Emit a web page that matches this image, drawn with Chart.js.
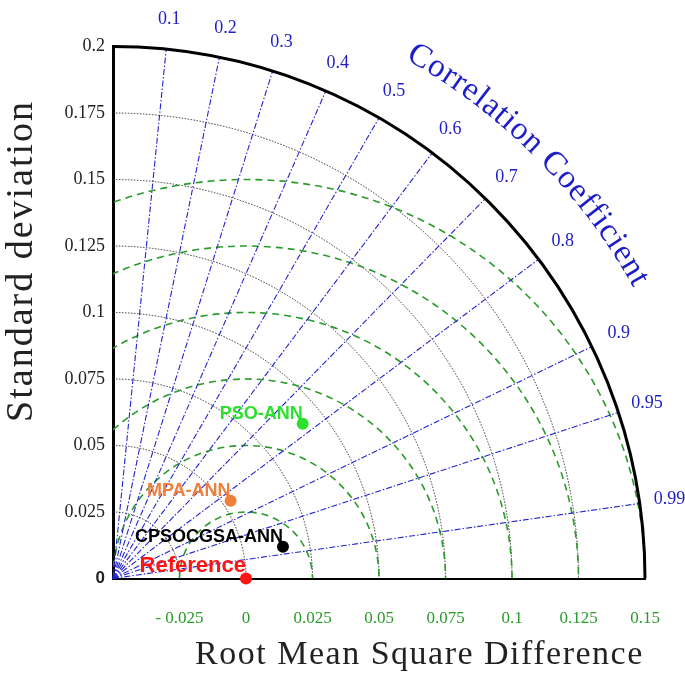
<!DOCTYPE html>
<html>
<head>
<meta charset="utf-8">
<script src="https://cdn.jsdelivr.net/npm/chart.js@4.4.1/dist/chart.umd.min.js"></script>
<style>
  html, body { margin: 0; padding: 0; background: #fff; }
  #wrap { width: 685px; height: 677px; }
</style>
</head>
<body>
<div id="wrap"><canvas id="taylor" width="685" height="677"></canvas></div>
<script>
// models (standard deviation + correlation)
const modelNames = ["PSO-ANN", "MPA-ANN", "CPSOCGSA-ANN"];
const modelStd = [0.092, 0.053, 0.065];
const modelCorr = [0.775, 0.834, 0.983];
const modelColors = ["#2ee02e", "#f07f3c", "#000000"];
const refName = "Reference";
const refStd = 0.05;
const refColor = "#ff1414";

// axes / grid
const stdTicks = [0, 0.025, 0.05, 0.075, 0.1, 0.125, 0.15, 0.175, 0.2];
const rmsTicks = [-0.025, 0, 0.025, 0.05, 0.075, 0.1, 0.125, 0.15];
const corrTicks = [0.1, 0.2, 0.3, 0.4, 0.5, 0.6, 0.7, 0.8, 0.9, 0.95, 0.99];
const stdArcs = [0.025, 0.05, 0.075, 0.1, 0.125, 0.15, 0.175];
const rmsArcs = [0.025, 0.05, 0.075, 0.1, 0.125, 0.15];
const stdMax = 0.2;

const BLUE = "#1c1cc8";
const GREEN = "#2a9a2a";

function fmt(v) {
  v = Math.round(v * 1000) / 1000;
  if (v < 0) return "- " + String(-v);
  return String(v);
}

// no extra room for overhanging tick labels
function noPad(s) {
  s.paddingTop = 0;
  s.paddingBottom = 0;
  s.paddingLeft = 0;
  s.paddingRight = 0;
}

// draws the polar grid + texts with the chart's own scales
const taylorPlugin = {
  id: "taylor",
  beforeDatasetsDraw(chart) {
    const { ctx, chartArea, scales: { x, y } } = chart;
    const ox = x.getPixelForValue(0), oy = y.getPixelForValue(0);
    const k = (x.getPixelForValue(stdMax) - ox) / stdMax;
    const rMax = stdMax * k;
    ctx.save();

    // std deviation arcs
    ctx.strokeStyle = "#333";
    ctx.lineWidth = 1;
    ctx.setLineDash([1.5, 1.5]);
    stdArcs.forEach(r => {
      ctx.beginPath();
      ctx.arc(ox, oy, r * k, -Math.PI / 2, 0);
      ctx.stroke();
    });

    // rmsd arcs around the reference
    ctx.save();
    ctx.beginPath();
    ctx.rect(chartArea.left, chartArea.top, chartArea.width, chartArea.height);
    ctx.clip();
    ctx.strokeStyle = GREEN;
    ctx.lineWidth = 1.6;
    ctx.setLineDash([7, 5]);
    const rx = x.getPixelForValue(refStd);
    rmsArcs.forEach(r => {
      ctx.beginPath();
      ctx.arc(rx, oy, r * k, Math.PI, 2 * Math.PI);
      ctx.stroke();
    });
    ctx.restore();

    // correlation rays
    ctx.strokeStyle = "#2424d0";
    ctx.lineWidth = 1.1;
    ctx.setLineDash([6, 2, 1.5, 2]);
    corrTicks.forEach(c => {
      const a = Math.acos(c);
      ctx.beginPath();
      ctx.moveTo(ox, oy);
      ctx.lineTo(ox + rMax * Math.cos(a), oy - rMax * Math.sin(a));
      ctx.stroke();
    });

    // outer arc
    ctx.setLineDash([]);
    ctx.strokeStyle = "#000";
    ctx.lineWidth = 3;
    ctx.beginPath();
    ctx.arc(ox, oy, rMax, -Math.PI / 2, 0);
    ctx.stroke();
    ctx.restore();
  },

  afterDatasetsDraw(chart) {
    const { ctx, chartArea, scales: { x, y } } = chart;
    const ox = x.getPixelForValue(0), oy = y.getPixelForValue(0);
    const k = (x.getPixelForValue(stdMax) - ox) / stdMax;
    ctx.save();

    // point labels
    chart.data.datasets.forEach((ds, i) => {
      const pt = chart.getDatasetMeta(i).data[0];
      const isRef = ds.label === refName;
      ctx.font = isRef ? "bold 22px 'Liberation Sans'" : "bold 18px 'Liberation Sans'";
      ctx.fillStyle = ds.backgroundColor;
      ctx.textAlign = "right";
      ctx.textBaseline = "middle";
      ctx.fillText(ds.label, pt.x, pt.y - (isRef ? 13 : 10));
    });

    // correlation tick labels
    const rLab = 0.2113 * k;
    ctx.font = "18px 'Liberation Serif'";
    ctx.fillStyle = BLUE;
    ctx.textAlign = "center";
    ctx.textBaseline = "middle";
    corrTicks.forEach(c => {
      const a = Math.acos(c);
      ctx.fillText(String(c), ox + rLab * Math.cos(a), oy - rLab * Math.sin(a));
    });

    // curved title
    const txt = "Correlation Coefficient";
    const rT = 0.2274 * k;
    ctx.font = "33px 'Liberation Serif'";
    const widths = [...txt].map(ch => ctx.measureText(ch).width);
    const total = widths.reduce((s, w) => s + w, 0);
    const a0 = 60.6 * Math.PI / 180, a1 = 29.2 * Math.PI / 180;
    const gap = ((a0 - a1) * rT - total) / (txt.length - 1);
    let run = 0;
    [...txt].forEach((ch, i) => {
      const a = a0 - (run + widths[i] / 2) / rT;
      ctx.save();
      ctx.translate(ox + rT * Math.cos(a), oy - rT * Math.sin(a));
      ctx.rotate(Math.PI / 2 - a);
      ctx.fillText(ch, 0, 0);
      ctx.restore();
      run += widths[i] + gap;
    });

    // axis titles
    ctx.fillStyle = "#222";
    ctx.letterSpacing = "2px";
    ctx.font = "38px 'Liberation Serif'";
    ctx.save();
    ctx.translate(22, chartArea.top + 0.403 * chartArea.height);
    ctx.rotate(-Math.PI / 2);
    ctx.fillText("Standard deviation", 0, 0);
    ctx.restore();
    ctx.letterSpacing = "1.5px";
    ctx.font = "34px 'Liberation Serif'";
    ctx.fillText("Root Mean Square Difference", chartArea.left + 0.576 * chartArea.width, chartArea.bottom + 77);
    ctx.restore();
  }
};

const datasets = modelNames.map((n, i) => ({
  label: n,
  data: [{ x: modelStd[i] * modelCorr[i], y: modelStd[i] * Math.sqrt(1 - modelCorr[i] ** 2) }],
  backgroundColor: modelColors[i],
  borderColor: modelColors[i],
  pointRadius: 6,
  pointBorderWidth: 0,
  clip: false
}));
datasets.push({
  label: refName,
  data: [{ x: refStd, y: 0 }],
  backgroundColor: refColor,
  borderColor: refColor,
  pointRadius: 6,
  pointBorderWidth: 0,
  clip: false
});

const config = {
  type: "scatter",
  data: { datasets },
  options: {
    responsive: false,
    animation: false,
    devicePixelRatio: 1,
    layout: { padding: { top: 46.5, right: 40, left: 0, bottom: 0 } },
    plugins: { legend: { display: false }, tooltip: { enabled: false } },
    scales: {
      x: {
        type: "linear",
        min: 0,
        max: stdMax,
        afterBuildTicks: s => { s.ticks = rmsTicks.map(v => ({ value: refStd + v })); },
        afterFit: s => { s.height = 98.5; noPad(s); },
        grid: { display: false, drawTicks: false },
        border: { color: "#000", width: 2 },
        ticks: {
          autoSkip: false,
          maxRotation: 0,
          padding: 30,
          color: GREEN,
          font: { family: "Liberation Serif", size: 17 },
          callback: v => fmt(v - refStd)
        }
      },
      y: {
        type: "linear",
        min: 0,
        max: stdMax,
        afterBuildTicks: s => { s.ticks = stdTicks.map(v => ({ value: v })); },
        afterFit: s => { s.width = 113; noPad(s); },
        grid: { display: false, drawTicks: false },
        border: { color: "#000", width: 3 },
        ticks: {
          padding: 8,
          color: "#222",
          font: c => (c.tick && c.tick.value === 0)
            ? { family: "Liberation Sans", size: 17, weight: "bold" }
            : { family: "Liberation Serif", size: 18 },
          callback: v => fmt(v)
        }
      }
    }
  },
  plugins: [taylorPlugin]
};

new Chart(document.getElementById("taylor"), config);
</script>
</body>
</html>
